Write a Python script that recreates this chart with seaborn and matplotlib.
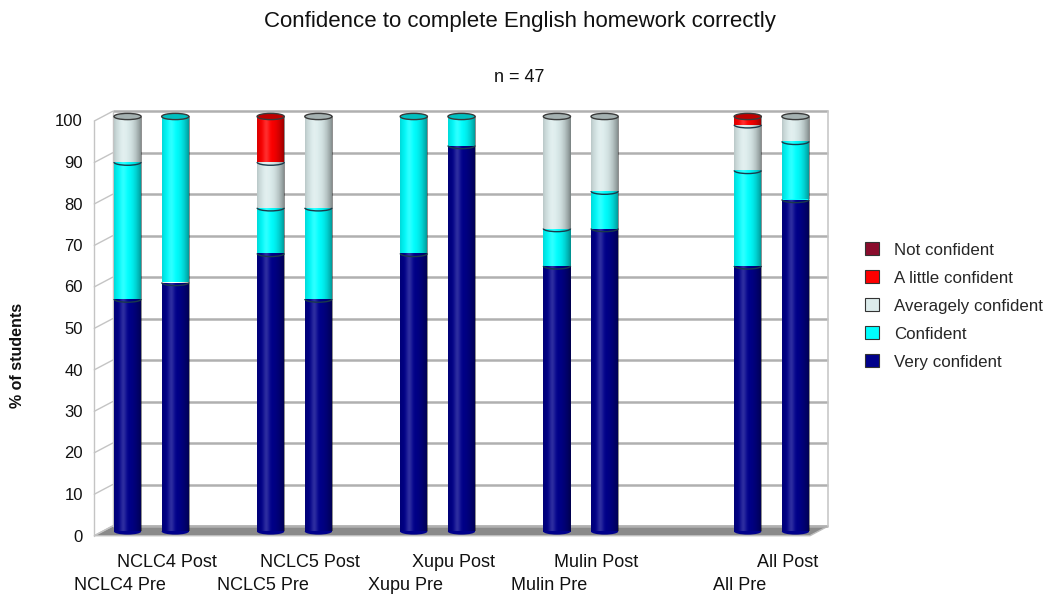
import numpy as np
import pandas as pd
import matplotlib
matplotlib.use("Agg")
import matplotlib.pyplot as plt
import matplotlib.transforms as mtransforms
from matplotlib.patches import Patch, Ellipse, Arc, Polygon
import seaborn as sns

# ---- data (percent of students) ----
groups = ["NCLC4 Pre", "NCLC4 Post", "NCLC5 Pre", "NCLC5 Post", "Xupu Pre",
          "Xupu Post", "Mulin Pre", "Mulin Post", "All Pre", "All Post"]
slots = [0, 1, 3, 4, 6, 7, 9, 10, 13, 14]   # category slots (blank slots between groups)
very_confident = [56, 60, 67, 56, 67, 93, 64, 73, 64, 80]
confident = [33, 40, 11, 22, 33, 7, 9, 9, 23, 14]
averagely_confident = [11, 0, 11, 22, 0, 0, 27, 18, 11, 6]
a_little_confident = [0, 0, 11, 0, 0, 0, 0, 0, 2, 0]
not_confident = [0, 0, 0, 0, 0, 0, 0, 0, 0, 0]
yticks = list(range(0, 101, 10))

layers = [
    ("Very confident", very_confident, "#00008b"),
    ("Confident", confident, "#00ffff"),
    ("Averagely confident", averagely_confident, "#dcecec"),
    ("A little confident", a_little_confident, "#ff0000"),
    ("Not confident", not_confident, "#8a0c2c"),
]

sns.set_theme(style="white")
plt.rcParams["font.family"] = ["Liberation Sans Narrow", "Liberation Sans", "DejaVu Sans"]

W, H = 1049, 597
fig = plt.figure(figsize=(W / 100, H / 100), dpi=100)
fig.patch.set_facecolor("white")

# ---- pseudo-3D frame (pixel coordinates) ----
bg = fig.add_axes([0, 0, 1, 1], zorder=0)
bg.set_xlim(0, W)
bg.set_ylim(H, 0)
bg.axis("off")
xf, xb, xr = 94.3, 112.7, 828.3
y_front = lambda v: 535.7 - 4.147 * v
y_back = lambda v: 526.0 - 4.147 * v
floor = Polygon([(xf, y_front(0)), (xr - 18.3, y_front(0)), (xr, y_back(0)), (xb, y_back(0))],
                closed=True, facecolor="#8a8a8a", edgecolor="#bdbdbd", lw=1.0)
bg.add_patch(floor)
for v in yticks:
    bg.plot([xb, xr], [y_back(v), y_back(v)], color="#b0b0b0", lw=1.8, solid_capstyle="butt")
    bg.plot([xf, xb], [y_front(v), y_back(v)], color="#c4c4c4", lw=1.0)
bg.plot([xf, xf], [y_front(0), y_front(100)], color="#c4c4c4", lw=1.0)
bg.plot([xb, xb], [y_back(0), y_back(100)], color="#c4c4c4", lw=1.0)
bg.plot([xr, xr], [y_back(0), y_back(100)], color="#c8c8c8", lw=1.2)

# ---- bars ----
ax = fig.add_axes([103.7 / W, 1 - 531.5 / H, 715.6 / W, 415.0 / H], zorder=2)
ax.set_facecolor("none")
bar_w = 0.57
bottom = np.zeros(len(groups))
seg_info = []
for name, vals, col in layers:
    df = pd.DataFrame({"slot": slots, "pct": vals})
    n_before = len(ax.patches)
    sns.barplot(data=df, x="slot", y="pct", native_scale=True, width=bar_w,
                color=col, saturation=1, errorbar=None, bottom=bottom.copy(),
                linewidth=0, ax=ax)
    for p in ax.patches[n_before:]:
        seg_info.append((p, col))
    bottom = bottom + np.array(vals, dtype=float)

# cylinder shading on each segment
t = np.linspace(0, 1, 64)
shade = np.zeros((1, 64, 4))
dark = np.clip((np.abs(t - 0.38) / 0.62), 0, 1) ** 2.2
shade[0, :, 3] = 0.45 * dark
light = np.exp(-((t - 0.33) / 0.12) ** 2)
hi = np.zeros((1, 64, 4))
hi[0, :, :3] = 1.0
hi[0, :, 3] = 0.18 * light
for p, col in seg_info:
    if p.get_height() <= 0:
        continue
    x0, y0 = p.get_x(), p.get_y()
    x1, y1 = x0 + p.get_width(), y0 + p.get_height()
    for img in (shade, hi):
        im = ax.imshow(img, extent=[x0, x1, y0, y1], aspect="auto",
                       interpolation="bilinear", zorder=3)
        im.set_clip_path(p)

# rounded ends and segment seams
cap_h = 1.5
for i, s in enumerate(slots):
    cum = 0.0
    for name, vals, col in layers:
        v = vals[i]
        if v <= 0:
            continue
        if cum == 0:
            ax.add_patch(Ellipse((s, 0), bar_w, cap_h, facecolor=col, edgecolor="none",
                                 zorder=2.5, clip_on=False))
        else:
            ax.add_patch(Arc((s, cum), bar_w, cap_h, theta1=180, theta2=360,
                             edgecolor="#1a3a4a", lw=1.0, zorder=4))
        cum += v
        top_col = col
    c = np.array(matplotlib.colors.to_rgb(top_col)) * 0.75
    ax.add_patch(Ellipse((s, cum), bar_w, cap_h, facecolor=c, edgecolor="#3a3a3a",
                         lw=1.0, zorder=5, clip_on=False))

ax.set_xlim(-0.5, 14.5)
ax.set_ylim(0, 100)
for sp in ax.spines.values():
    sp.set_visible(False)
ax.set_xlabel("")
ax.set_ylabel("")

# y ticks (front plane)
ax.set_yticks(yticks)
ax.set_yticklabels([str(v) for v in yticks], fontsize=12, color="#111111")
ax.tick_params(axis="y", length=0, pad=15)
off_y = mtransforms.ScaledTranslation(0, -4 / 100, fig.dpi_scale_trans)
for lab in ax.get_yticklabels():
    lab.set_transform(lab.get_transform() + off_y)

# staggered category labels: "Post" on the first row, "Pre" on the second
ax.set_xticks(slots)
ax.set_xticklabels(groups, fontsize=13, color="#111111")
ax.tick_params(axis="x", length=0, pad=16.5)
for g, lab in zip(groups, ax.get_xticklabels()):
    dy = 0 if g.endswith("Post") else -23
    off = mtransforms.ScaledTranslation(-8 / 100, dy / 100, fig.dpi_scale_trans)
    lab.set_transform(lab.get_transform() + off)

# titles
fig.text(520 / W, 1 - 22 / H, "Confidence to complete English homework correctly",
         ha="center", va="center", fontsize=16, color="#111111")
fig.text(519 / W, 1 - 77 / H, "n = 47", ha="center", va="center",
         fontsize=13, color="#111111")
fig.text(18 / W, 1 - 355 / H, "% of students", rotation=90, ha="center", va="center",
         fontsize=11.5, fontweight="bold", color="#111111")

# legend (top of the stack first)
handles = [Patch(facecolor=col, edgecolor="#333333", lw=0.8, label=name)
           for name, vals, col in reversed(layers)]
fig.legend(handles=handles, loc="center left", bbox_to_anchor=(865 / W, 1 - 306 / H),
           frameon=False, fontsize=12.2, handlelength=0.8, handleheight=0.8,
           handletextpad=0.9, labelspacing=0.74, borderaxespad=0, borderpad=0)

fig.savefig("out.png", dpi=100, facecolor="white")
